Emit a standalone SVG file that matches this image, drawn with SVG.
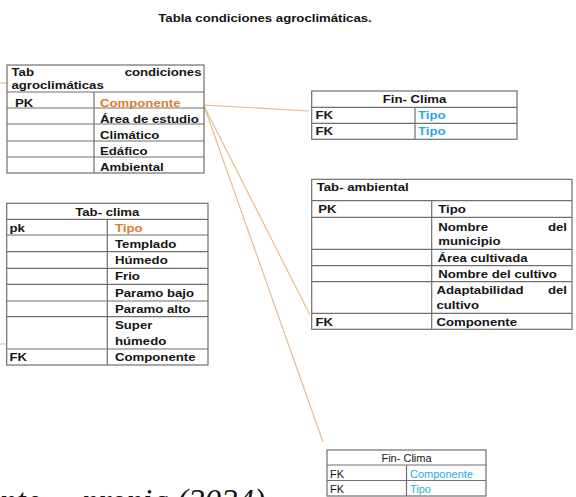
<svg xmlns="http://www.w3.org/2000/svg" width="576" height="497" viewBox="0 0 576 497">
<style>
  .t { font-family: "Liberation Sans", Arial, sans-serif; font-weight: bold; font-size: 11px; fill: #151515; }
  .r { font-family: "Liberation Sans", Arial, sans-serif; font-weight: normal; font-size: 11px; fill: #151515; }
  .m { text-anchor: middle; }
  .e { text-anchor: end; }
  .o { fill: #E07B2E; }
  .b { fill: #2BA9DE; }
  .box { fill: #ffffff; stroke: #6f6f6f; stroke-width: 1.2; }
  .ln { stroke: #6f6f6f; stroke-width: 1.2; fill: none; }
  .cn { stroke: #E2B88C; stroke-width: 1.1; fill: none; }
  .src { font-family: "Liberation Serif", "Times New Roman", serif; font-style: italic; font-size: 33px; fill: #111; }
</style>
<rect width="576" height="497" fill="#ffffff"/>
<text class="t m" transform="translate(265 22) scale(1.2 1)">Tabla condiciones agroclimáticas.</text>

<g id="connectors">
  <line class="cn" x1="204" y1="105" x2="309" y2="111"/>
  <line class="cn" x1="204" y1="106" x2="310" y2="315"/>
  <line class="cn" x1="204" y1="106" x2="323" y2="442"/>
  <line class="cn" x1="0" y1="83" x2="7" y2="83"/>
  <line class="cn" x1="0" y1="344" x2="6" y2="344"/>
</g>

<g id="tab-condiciones">
  <rect class="box" x="7" y="65" width="197" height="108"/>
  <path class="ln" d="M7 92H204M7 108H204M7 124H204M7 141H204M7 157H204M94 92V173"/>
  <text class="t" transform="translate(11.5 75.5) scale(1.2 1)">Tab</text>
  <text class="t e" transform="translate(201.5 75.5) scale(1.2 1)">condiciones</text>
  <text class="t" transform="translate(11.5 88.5) scale(1.2 1)">agroclimáticas</text>
  <text class="t" transform="translate(15 106.5) scale(1.2 1)">PK</text>
  <text class="t o" transform="translate(100 106.5) scale(1.2 1)">Componente</text>
  <text class="t" transform="translate(100 122.5) scale(1.2 1)">Área de estudio</text>
  <text class="t" transform="translate(100 138.5) scale(1.2 1)">Climático</text>
  <text class="t" transform="translate(100 154.5) scale(1.2 1)">Edáfico</text>
  <text class="t" transform="translate(100 170.5) scale(1.2 1)">Ambiental</text>
</g>

<g id="fin-clima-top">
  <rect class="box" x="311.7" y="91" width="205.3" height="48.3"/>
  <path class="ln" d="M311.7 107.3H517M311.7 123.3H517M415 107.3V139.3"/>
  <text class="t m" transform="translate(414.5 103.3) scale(1.2 1)">Fin- Clima</text>
  <text class="t" transform="translate(315.5 119.3) scale(1.2 1)">FK</text>
  <text class="t b" transform="translate(418 119.3) scale(1.2 1)">Tipo</text>
  <text class="t" transform="translate(315.5 135.3) scale(1.2 1)">FK</text>
  <text class="t b" transform="translate(418 135.3) scale(1.2 1)">Tipo</text>
</g>

<g id="tab-clima">
  <rect class="box" x="6.7" y="203.3" width="201.3" height="161.7"/>
  <path class="ln" d="M6.7 219.3H208M6.7 235H208M6.7 251.7H208M6.7 268.3H208M6.7 284.3H208M6.7 301H208M6.7 316.7H208M6.7 349H208M107.3 219.3V365"/>
  <text class="t m" transform="translate(107.3 216) scale(1.2 1)">Tab- clima</text>
  <text class="t" transform="translate(9.5 231.5) scale(1.2 1)">pk</text>
  <text class="t o" transform="translate(115 231.5) scale(1.2 1)">Tipo</text>
  <text class="t" transform="translate(115 247.7) scale(1.2 1)">Templado</text>
  <text class="t" transform="translate(115 264) scale(1.2 1)">Húmedo</text>
  <text class="t" transform="translate(115 280) scale(1.2 1)">Frio</text>
  <text class="t" transform="translate(115 296.7) scale(1.2 1)">Paramo bajo</text>
  <text class="t" transform="translate(115 312.7) scale(1.2 1)">Paramo alto</text>
  <text class="t" transform="translate(115 329.3) scale(1.2 1)">Super</text>
  <text class="t" transform="translate(115 345) scale(1.2 1)">húmedo</text>
  <text class="t" transform="translate(9.5 361) scale(1.2 1)">FK</text>
  <text class="t" transform="translate(115 361) scale(1.2 1)">Componente</text>
</g>

<g id="tab-ambiental">
  <rect class="box" x="311.7" y="179.3" width="260.3" height="150"/>
  <path class="ln" d="M311.7 200.7H572M311.7 217.3H572M311.7 249.3H572M311.7 265.7H572M311.7 281.7H572M311.7 313.3H572M431.7 200.7V329.3"/>
  <text class="t" transform="translate(316.7 190.7) scale(1.2 1)">Tab- ambiental</text>
  <text class="t" transform="translate(318.3 213.3) scale(1.2 1)">PK</text>
  <text class="t" transform="translate(438.3 213.3) scale(1.2 1)">Tipo</text>
  <text class="t" transform="translate(438.3 230.7) scale(1.2 1)">Nombre</text>
  <text class="t e" transform="translate(567 230.7) scale(1.2 1)">del</text>
  <text class="t" transform="translate(438.3 244.5) scale(1.2 1)">municipio</text>
  <text class="t" transform="translate(437.5 261.7) scale(1.2 1)">Área cultivada</text>
  <text class="t" transform="translate(438.3 277.5) scale(1.2 1)">Nombre del cultivo</text>
  <text class="t" transform="translate(436.5 293.5) scale(1.2 1)">Adaptabilidad</text>
  <text class="t e" transform="translate(567 293.5) scale(1.2 1)">del</text>
  <text class="t" transform="translate(436.5 308.5) scale(1.2 1)">cultivo</text>
  <text class="t" transform="translate(315.5 325.7) scale(1.2 1)">FK</text>
  <text class="t" transform="translate(436.5 325.7) scale(1.2 1)">Componente</text>
</g>

<g id="fin-clima-bottom">
  <rect class="box" x="327" y="450" width="159" height="46"/>
  <path class="ln" d="M327 465H486M327 480.5H486M406.5 465V496"/>
  <text class="r m" transform="translate(406.5 462)">Fin- Clima</text>
  <text class="r" transform="translate(330 477.5)">FK</text>
  <text class="r b" transform="translate(410 477.5)">Componente</text>
  <text class="r" transform="translate(330 493)">FK</text>
  <text class="r b" transform="translate(410 493)">Tipo</text>
</g>

<text class="src" y="512"><tspan x="0">nte</tspan><tspan x="82">propia (2024)</tspan></text>
</svg>
